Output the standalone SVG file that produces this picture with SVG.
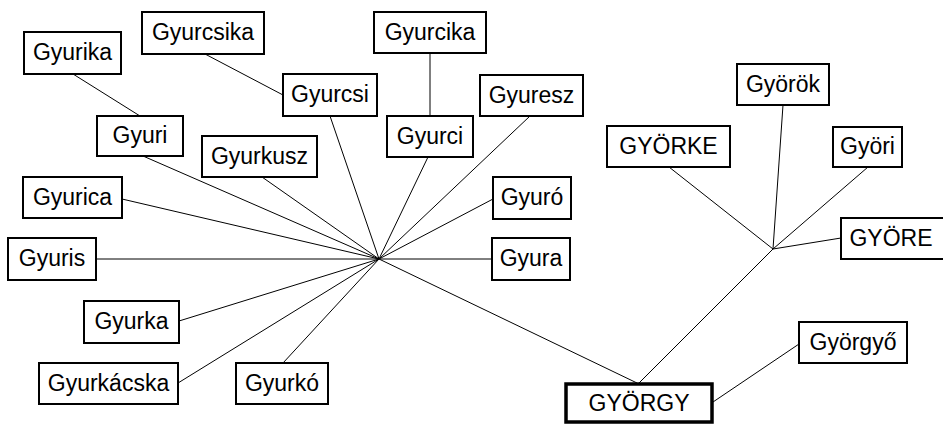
<svg xmlns="http://www.w3.org/2000/svg" width="943" height="424" viewBox="0 0 943 424">
<style>
rect{fill:#fff;stroke:#000;stroke-width:2}
rect.main{stroke-width:3.5}
text{font-family:"Liberation Sans",Arial,sans-serif;font-size:23px;fill:#000;text-anchor:middle}
#connectors line{stroke:#000;stroke-width:1}
</style>
<rect x="0" y="0" width="943" height="424" style="fill:#fff;stroke:none"/>
<g id="connectors">
<line x1="73" y1="74" x2="140" y2="116"/>
<line x1="205" y1="54" x2="283" y2="95"/>
<line x1="430" y1="53" x2="430" y2="116"/>
<line x1="143" y1="156" x2="379" y2="259"/>
<line x1="330" y1="116" x2="379" y2="259"/>
<line x1="428" y1="157" x2="379" y2="259"/>
<line x1="530" y1="116" x2="379" y2="259"/>
<line x1="262" y1="177" x2="379" y2="259"/>
<line x1="122" y1="199" x2="379" y2="259"/>
<line x1="493" y1="199" x2="379" y2="259"/>
<line x1="492" y1="259" x2="379" y2="259"/>
<line x1="96" y1="259" x2="379" y2="259"/>
<line x1="179" y1="321" x2="379" y2="259"/>
<line x1="178" y1="383" x2="379" y2="259"/>
<line x1="283" y1="363" x2="379" y2="259"/>
<line x1="379" y1="259" x2="637" y2="383"/>
<line x1="773" y1="249" x2="639" y2="383"/>
<line x1="669" y1="167" x2="773" y2="249"/>
<line x1="783" y1="105" x2="773" y2="249"/>
<line x1="868" y1="167" x2="773" y2="249"/>
<line x1="841" y1="238" x2="773" y2="249"/>
<line x1="713" y1="402" x2="799" y2="344"/>
</g>
<g id="gyurika"><rect x="24" y="32" width="97" height="42"/><text x="72.5" y="60">Gyurika</text></g>
<g id="gyurcsika"><rect x="142" y="12" width="122" height="42"/><text x="203" y="40">Gyurcsika</text></g>
<g id="gyurcsi"><rect x="283" y="74" width="94" height="42"/><text x="330" y="102">Gyurcsi</text></g>
<g id="gyurcika"><rect x="374" y="12" width="112" height="41"/><text x="430" y="40">Gyurcika</text></g>
<g id="gyuresz"><rect x="480" y="75" width="103" height="41"/><text x="531.5" y="103">Gyuresz</text></g>
<g id="gyuri"><rect x="97" y="116" width="86" height="40"/><text x="140" y="143">Gyuri</text></g>
<g id="gyurci"><rect x="387" y="116" width="86" height="41"/><text x="430" y="144">Gyurci</text></g>
<g id="gyurkusz"><rect x="202" y="136" width="115" height="41"/><text x="259.5" y="164">Gyurkusz</text></g>
<g id="gyurica"><rect x="23" y="177" width="99" height="41"/><text x="72.5" y="205">Gyurica</text></g>
<g id="gyuro"><rect x="493" y="177" width="78" height="42"/><text x="532" y="205">Gyuró</text></g>
<g id="gyuris"><rect x="8" y="238" width="88" height="42"/><text x="52" y="266">Gyuris</text></g>
<g id="gyura"><rect x="492" y="238" width="78" height="42"/><text x="531" y="266">Gyura</text></g>
<g id="gyurka"><rect x="84" y="301" width="95" height="42"/><text x="131.5" y="329">Gyurka</text></g>
<g id="gyurkacska"><rect x="39" y="363" width="139" height="41"/><text x="108.5" y="391">Gyurkácska</text></g>
<g id="gyurko"><rect x="236" y="363" width="92" height="41"/><text x="282" y="391">Gyurkó</text></g>
<g id="gyorke"><rect x="607" y="126" width="123" height="41"/><text x="668.5" y="154">GYÖRKE</text></g>
<g id="gyorok"><rect x="737" y="64" width="92" height="41"/><text x="783" y="92">Györök</text></g>
<g id="gyori"><rect x="833" y="127" width="69" height="40"/><text x="867.5" y="154">Györi</text></g>
<g id="gyore"><rect x="841" y="218" width="104" height="41"/><text x="891" y="246">GYÖRE</text></g>
<g id="gyorgyo"><rect x="799" y="322" width="108" height="41"/><text x="853" y="350">Györgyő</text></g>
<g id="gyorgy"><rect class="main" x="566" y="384" width="146" height="38"/><text x="639" y="411">GYÖRGY</text></g>
</svg>
